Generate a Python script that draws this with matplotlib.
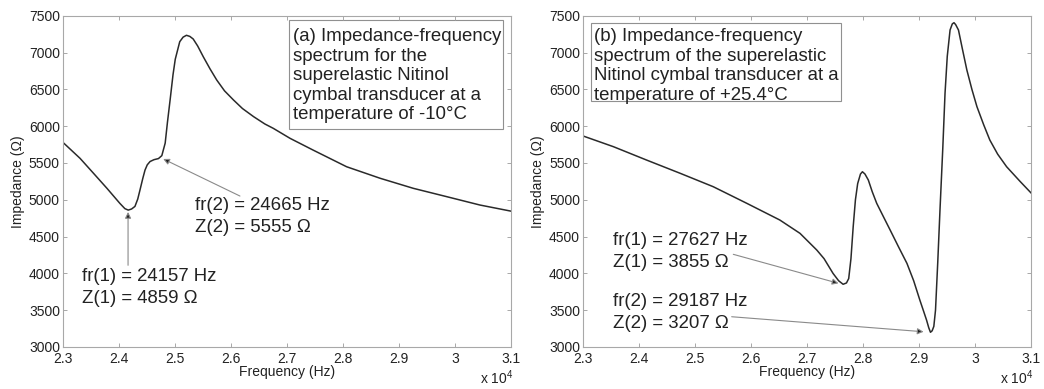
import matplotlib.pyplot as plt
from matplotlib.patches import Rectangle
from matplotlib.ticker import FuncFormatter, MultipleLocator

plt.rcParams['font.family'] = ['Liberation Sans', 'DejaVu Sans']
plt.rcParams['mathtext.fontset'] = 'custom'
plt.rcParams['mathtext.rm'] = 'Liberation Sans'

# (a) -10 C spectrum
freq_a = [23000, 23300, 23540, 23780, 24010, 24100, 24160, 24220, 24280, 24330,
          24370, 24420, 24460, 24500, 24550, 24620, 24700, 24760, 24820, 24860,
          24910, 24960, 25000, 25080, 25140, 25200, 25260, 25320, 25400, 25500,
          25620, 25740, 25880, 26040, 26200, 26400, 26600, 26750, 27050, 27460,
          28060, 28660, 29250, 29850, 30440, 31000]
imp_a = [5776, 5563, 5360, 5156, 4952, 4880, 4860, 4875, 4910, 5010,
         5133, 5290, 5404, 5475, 5520, 5545, 5560, 5600, 5770, 6050,
         6370, 6700, 6910, 7148, 7210, 7235, 7220, 7185, 7090, 6944,
         6780, 6628, 6480, 6356, 6240, 6129, 6030, 5971, 5835, 5676,
         5449, 5292, 5156, 5042, 4929, 4845]

# (b) +25.4 C spectrum
freq_b = [23000, 23540, 24130, 24730, 25320, 25920, 26510, 26870, 27170, 27300,
          27460, 27560, 27640, 27700, 27740, 27780, 27820, 27860, 27900, 27950,
          27985, 28030, 28090, 28160, 28240, 28360, 28480, 28630, 28780, 28900,
          29010, 29080, 29130, 29170, 29200, 29230, 29260, 29290, 29330, 29370,
          29420, 29460, 29500, 29550, 29590, 29620, 29650, 29700, 29770, 29850,
          29940, 30030, 30150, 30260, 30400, 30560, 30800, 31000]
imp_b = [5866, 5721, 5540, 5360, 5178, 4952, 4725, 4544, 4317, 4200,
         4000, 3900, 3852, 3870, 3930, 4200, 4634, 5000, 5220, 5350,
         5381, 5350, 5269, 5110, 4952, 4770, 4589, 4360, 4136, 3900,
         3638, 3480, 3366, 3260, 3200, 3220, 3280, 3500, 4150, 4861,
         5700, 6447, 6950, 7307, 7390, 7406, 7380, 7307, 7050, 6763,
         6500, 6265, 6020, 5812, 5620, 5449, 5250, 5090]

# resonance points (Hz, ohm)
res_a = [(24157, 4859), (24665, 5555)]
res_b = [(27627, 3855), (29187, 3207)]

title_a = ("(a) Impedance-frequency\nspectrum for the\nsuperelastic Nitinol\n"
           "cymbal transducer at a\ntemperature of -10\u00b0C")
title_b = ("(b) Impedance-frequency\nspectrum of the superelastic\n"
           "Nitinol cymbal transducer at a\ntemperature of +25.4\u00b0C")

spine = '#a8a8a8'
ink = '#222222'

fig = plt.figure(figsize=(10.44, 3.89), dpi=100)
ax1 = fig.add_axes([0.0606, 0.108, 0.4291, 0.8514])
ax2 = fig.add_axes([0.5587, 0.108, 0.4291, 0.8514])


def style(ax):
    ax.set_xlim(23000, 31000)
    ax.set_ylim(3000, 7500)
    ax.xaxis.set_major_locator(MultipleLocator(1000))
    ax.yaxis.set_major_locator(MultipleLocator(500))
    ax.xaxis.set_major_formatter(FuncFormatter(lambda v, p: '%g' % (v / 1e4)))
    ax.tick_params(direction='in', length=3, width=0.7, color=spine,
                   labelsize=10, labelcolor=ink, top=True, right=True)
    ax.tick_params(axis='x', pad=3.5)
    ax.tick_params(axis='y', pad=2.4)
    for s in ax.spines.values():
        s.set_color(spine)
        s.set_linewidth(0.8)
    ax.set_xlabel('Frequency (Hz)', fontsize=10, color=ink, va='center')
    ax.set_ylabel('Impedance (\u03a9)', fontsize=10, color=ink, va='center')
    ax.xaxis.set_label_coords(0.5, -0.0755)
    ax.yaxis.set_label_coords(-0.1, 0.5)
    ax.text(1.004, -0.0936, 'x 10$^4$', transform=ax.transAxes, ha='right',
            va='center', fontsize=10, color=ink)


def arrow(ax, tip, start):
    ax.annotate('', xy=tip, xytext=start,
                arrowprops=dict(arrowstyle='-|>', fc=ink, ec='#8a8a8a', lw=0.8,
                                mutation_scale=9, shrinkA=0, shrinkB=0))


def note(ax, x, y, i, res):
    # y is the baseline of the second line
    ax.text(x, y, 'fr(%d) = %d Hz\nZ(%d) = %d \u03a9' % (i, res[0], i, res[1]),
            transform=ax.transAxes, ha='left', va='baseline', fontsize=13.4,
            color=ink, linespacing=1.39)


def titlebox(ax, box, x, text):
    ax.add_patch(Rectangle(box[:2], box[2], box[3], transform=ax.transAxes,
                           fill=False, ec='#909090', lw=0.8))
    ax.text(x, 0.962, text, transform=ax.transAxes, ha='left', va='top',
            fontsize=13.4, color=ink, linespacing=1.19)


# panel (a)
ax1.plot(freq_a, imp_a, color='#2a2a2a', lw=1.1)
style(ax1)
titlebox(ax1, (0.5045, 0.6582, 0.477, 0.3291), 0.512, title_a)
note(ax1, 0.0411, 0.1317, 1, res_a[0])
note(ax1, 0.294, 0.3481, 2, res_a[1])
arrow(ax1, (res_a[0][0], res_a[0][1] - 25), (res_a[0][0], 4110))
arrow(ax1, (res_a[1][0] + 120, res_a[1][1]), (26155, 5051))

# panel (b)
ax2.plot(freq_b, imp_b, color='#2a2a2a', lw=1.1)
style(ax2)
titlebox(ax2, (0.0172, 0.7437, 0.5574, 0.2337), 0.0239, title_b)
note(ax2, 0.0656, 0.2425, 1, res_b[0])
note(ax2, 0.0656, 0.0562, 2, res_b[1])
arrow(ax2, (res_b[0][0] - 70, res_b[0][1] + 10), (25679, 4259))
arrow(ax2, (res_b[1][0] - 110, res_b[1][1]), (25650, 3411))

fig.savefig('out.png', dpi=100)
